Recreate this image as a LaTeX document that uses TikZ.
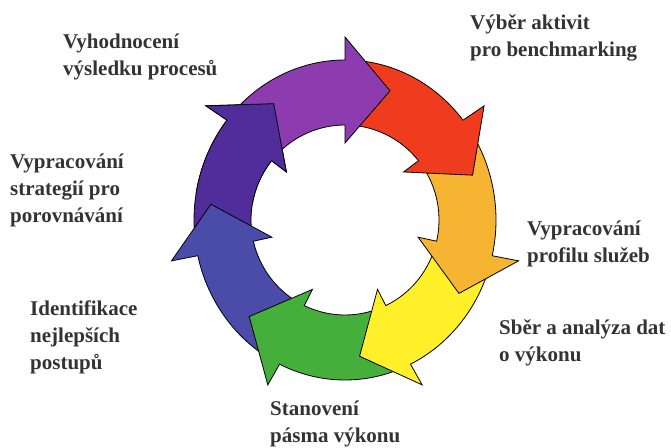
\documentclass[tikz,border=0pt]{standalone}
\usepackage{fontspec}
\setmainfont{Liberation Serif}
\usepackage{tikz}
\definecolor{cviolet}{HTML}{8C3CAF}
\definecolor{cred}{HTML}{F03C1E}
\definecolor{corange}{HTML}{F5B432}
\definecolor{cyellow}{HTML}{FFF02A}
\definecolor{cgreen}{HTML}{46AF3C}
\definecolor{cblue}{HTML}{4B4BAA}
\definecolor{cindigo}{HTML}{502D9B}
\tikzstyle{ringarrow} = [draw=black, line width=0.8pt]
\tikzstyle{steptext} = [anchor=base west, inner sep=0pt, align=left, text=black!80, font=\fontsize{21}{27}\selectfont\bfseries]
% #1 colour, #2 tail angle, #3 barb angle
\newcommand{\cyclearrow}[3]{%
  \filldraw[ringarrow, fill=#1] (#2:151 and 160) arc[start angle=#2, end angle=#3, x radius=151, y radius=160]
    -- (#3:178 and 183) -- ({#3-19.5}:135 and 137) -- (#3:75 and 77) -- (#3:94 and 95)
    arc[start angle=#3, end angle=#2, x radius=94, y radius=95] -- cycle;}

\begin{document}
\begin{tikzpicture}[x=1pt, y=1pt]
\useasboundingbox (0,0) rectangle (671,447);

% Cycle
\begin{scope}[shift={(345,227)}]
\cyclearrow{cindigo}{-171.1}{-218.6}
\cyclearrow{cblue}{-119.7}{-167.1}
\cyclearrow{cgreen}{-68.3}{-115.7}
\cyclearrow{cyellow}{-17}{-64.3}
\cyclearrow{corange}{34.6}{-12.9}
\cyclearrow{cred}{86}{38.6}
\cyclearrow{cviolet}{137}{90}
% head of the indigo arrow again, on top of the violet tail
\begin{scope}
\clip (0,0) -- (100:250) arc[start angle=100, end angle=170, radius=250] -- cycle;
\cyclearrow{cindigo}{-171.1}{-218.6}
\end{scope}
\end{scope}

% Labels (base = last line)
\node (L1) [steptext] at (63,371) {Vyhodnocení\\výsledku procesů};
\node (L2) [steptext] at (470,390) {Výběr aktivit\\pro benchmarking};
\node (L3) [steptext] at (527,184) {Vypracování\\profilu služeb};
\node (L4) [steptext] at (499,86) {Sběr a analýza dat\\o výkonu};
\node (L5) [steptext] at (270,5) {Stanovení\\pásma výkonu};
\node (L6) [steptext] at (30,78) {Identifikace\\nejlepších\\postupů};
\node (L7) [steptext] at (10,224) {Vypracování\\strategií pro\\porovnávání};

\end{tikzpicture}
\end{document}
